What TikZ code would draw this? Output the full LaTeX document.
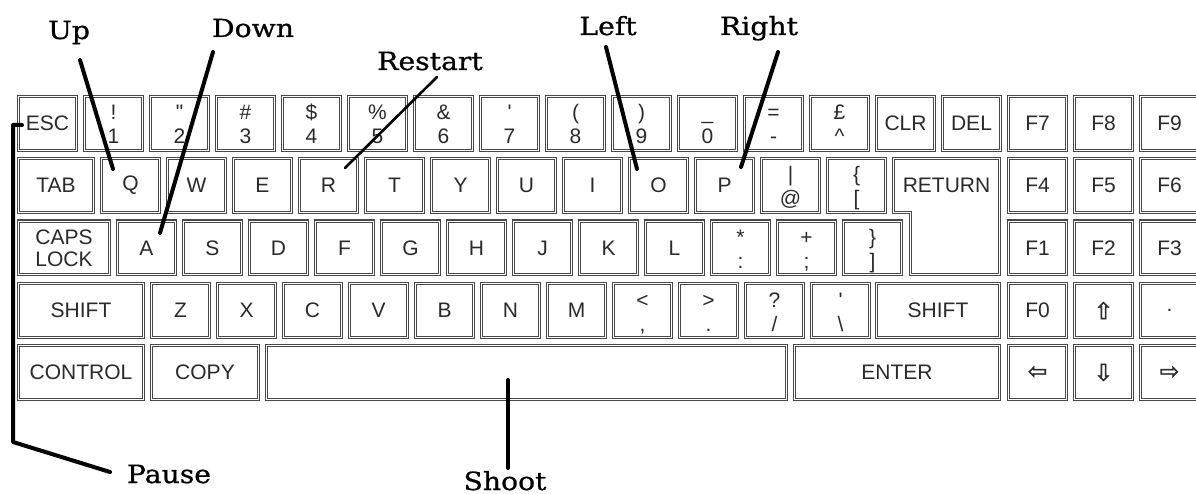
\documentclass[tikz,border=0pt]{standalone}
\usepackage{fontspec}
\setmainfont{Liberation Sans}
\newfontfamily\keyfont{Liberation Sans}
\newfontfamily\arrowfont{DejaVu Sans}[FakeBold=1.5]
\newfontfamily\labfont{DejaVu Serif}[FakeStretch=1.13,FakeBold=0.8]
\definecolor{keyline}{HTML}{484848}
\definecolor{keytext}{HTML}{2A2A2A}
% key box: optional style, name, x, y, w, h, text (x,y = outer top-left in px)
\newcommand\kb[7][]{\node[keybox,#1,minimum width=#5pt-3.4pt,minimum height=#6pt-3.4pt] (#2) at ({#3+#5/2},{#4+#6/2}) {#7};}
% two-symbol key: name, x, y, upper, lower
\newcommand\kt[5]{\kb{#1}{#2}{#3}{61}{57}{}%
  \node[keychar] (#1u) at ([yshift=3.5pt]#1.center) {#4};%
  \node[keychar] (#1l) at ([yshift=-20.5pt]#1.center) {#5};}
\begin{document}
\begin{tikzpicture}[x=1pt,y=-1pt,
  keybox/.style={draw=keyline, double=white, double distance=1.2pt, line width=1.1pt,
    inner sep=0pt, text=keytext, font=\keyfont\fontsize{21}{22}\selectfont, align=center},
  keyshape/.style={draw=keyline, double=white, double distance=1.2pt, line width=1.1pt},
  keylabel/.style={inner sep=0pt, text=keytext, font=\keyfont\fontsize{21}{22}\selectfont},
  keychar/.style={anchor=base, inner sep=0pt, text=keytext, font=\keyfont\fontsize{21}{22}\selectfont},
  arrowkey/.style={font=\arrowfont\fontsize{23}{25}\selectfont},
  lab/.style={anchor=base, inner sep=0pt, font=\labfont\fontsize{25}{28}\selectfont},
  conn/.style={line width=4pt, line cap=round, line join=round},
  connthin/.style={conn, line width=2.6pt}]
\useasboundingbox (0,0) rectangle (1196,494);
\fill[white] (0,0) rectangle (1196,494);
\clip (0,0) rectangle (1196,494);
% ---- row 1
\kb{esc}{17}{95}{61}{57}{ESC}
\kt{k1}{83}{95}{!}{1}
\kt{k2}{149}{95}{"}{2}
\kt{k3}{215}{95}{\#}{3}
\kt{k4}{281}{95}{\$}{4}
\kt{k5}{347}{95}{\%}{5}
\kt{k6}{413}{95}{\&}{6}
\kt{k7}{479}{95}{'}{7}
\kt{k8}{545}{95}{(}{8}
\kt{k9}{611}{95}{)}{9}
\kt{k0}{677}{95}{\_}{0}
\kt{kminus}{743}{95}{=}{-}
\kt{kpound}{809}{95}{£}{\textasciicircum}
\kb{clr}{875}{95}{61}{57}{CLR}
\kb{del}{941}{95}{61}{57}{DEL}
\kb{f7}{1007}{95}{61}{57}{F7}
\kb{f8}{1073}{95}{61}{57}{F8}
\kb{f9}{1139}{95}{61}{57}{F9}
% ---- row 2
\kb{tab}{17}{157}{78}{57}{TAB}
\kb{kq}{100}{157}{61}{57}{Q}
\kb{kw}{166}{157}{61}{57}{W}
\kb{ke}{232}{157}{61}{57}{E}
\kb{kr}{298}{157}{61}{57}{R}
\kb{kt}{364}{157}{61}{57}{T}
\kb{ky}{430}{157}{61}{57}{Y}
\kb{ku}{496}{157}{61}{57}{U}
\kb{ki}{562}{157}{61}{57}{I}
\kb{ko}{628}{157}{61}{57}{O}
\kb{kp}{694}{157}{61}{57}{P}
\kt{kat}{760}{157}{|}{@}
\kt{kbrace}{826}{157}{\{}{[}
\draw[keyshape] (893.7,158.7) -- (999.3,158.7) -- (999.3,274.8) -- (910.7,274.8)
  -- (910.7,212.3) -- (893.7,212.3) -- cycle;
\node[keylabel] (ret) at (946.5,185.5) {RETURN};
\kb{f4}{1007}{157}{61}{57}{F4}
\kb{f5}{1073}{157}{61}{57}{F5}
\kb{f6}{1139}{157}{61}{57}{F6}
% ---- row 3
\kb{caps}{17}{219.5}{94}{57}{CAPS\\LOCK}
\kb{ka}{116}{219.5}{61}{57}{A}
\kb{ks}{182}{219.5}{61}{57}{S}
\kb{kd}{248}{219.5}{61}{57}{D}
\kb{kf}{314}{219.5}{61}{57}{F}
\kb{kg}{380}{219.5}{61}{57}{G}
\kb{kh}{446}{219.5}{61}{57}{H}
\kb{kj}{512}{219.5}{61}{57}{J}
\kb{kk}{578}{219.5}{61}{57}{K}
\kb{kl}{644}{219.5}{61}{57}{L}
\kt{kstar}{710}{219.5}{*}{:}
\kt{kplus}{776}{219.5}{+}{;}
\kt{kcbrace}{842}{219.5}{\}}{]}
\kb{f1}{1007}{219.5}{61}{57}{F1}
\kb{f2}{1073}{219.5}{61}{57}{F2}
\kb{f3}{1139}{219.5}{61}{57}{F3}
% ---- row 4
\kb{lshift}{17}{282}{128}{57}{SHIFT}
\kb{kz}{150}{282}{61}{57}{Z}
\kb{kx}{216}{282}{61}{57}{X}
\kb{kc}{282}{282}{61}{57}{C}
\kb{kv}{348}{282}{61}{57}{V}
\kb{kb}{414}{282}{61}{57}{B}
\kb{kn}{480}{282}{61}{57}{N}
\kb{km}{546}{282}{61}{57}{M}
\kt{kless}{612}{282}{<}{,}
\kt{kgreater}{678}{282}{>}{.}
\kt{kquest}{744}{282}{?}{/}
\kt{kbslash}{810}{282}{'}{\textbackslash}
\kb{rshift}{875}{282}{126}{57}{SHIFT}
\kb{f0}{1007}{282}{61}{57}{F0}
\kb[arrowkey]{kup}{1073}{282}{61}{57}{⇧}
\kb{kdot}{1139}{282}{61}{57}{.}
% ---- row 5
\kb{ctrl}{17}{344}{128}{57}{CONTROL}
\kb{copy}{150}{344}{110}{57}{COPY}
\kb{space}{265}{344}{523}{57}{}
\kb{enter}{793}{344}{208}{57}{ENTER}
\kb[arrowkey]{kleft}{1007}{344}{61}{57}{⇦}
\kb[arrowkey]{kdown}{1073}{344}{61}{57}{⇩}
\kb[arrowkey]{kright}{1139}{344}{61}{57}{⇨}
% ---- labels
\node[lab] (lUp) at (69,39) {Up};
\node[lab] (lDown) at (253,37) {Down};
\node[lab] (lRestart) at (430,70) {Restart};
\node[lab] (lLeft) at (608,35) {Left};
\node[lab] (lRight) at (759,35) {Right};
\node[lab] (lPause) at (169,483) {Pause};
\node[lab] (lShoot) at (505,490) {Shoot};
% ---- connector end points
\coordinate (upA) at (80,60);      \coordinate (upB) at (113,169);
\coordinate (downA) at (213,52);   \coordinate (downB) at (160,233);
\coordinate (restA) at (437,77);   \coordinate (restB) at (345,168);
\coordinate (leftA) at (606,47);   \coordinate (leftB) at (637,169);
\coordinate (rightA) at (778,52);  \coordinate (rightB) at (741,167);
\coordinate (pauseA) at (22,125);  \coordinate (pauseB) at (13,125);
\coordinate (pauseC) at (13,442);  \coordinate (pauseD) at (110,472);
\coordinate (shootA) at (508,380); \coordinate (shootB) at (508,468);
% ---- connectors
\draw[conn] (upA) -- (upB);
\draw[conn] (downA) -- (downB);
\draw[connthin] (restA) -- (restB);
\draw[conn] (leftA) -- (leftB);
\draw[conn] (rightA) -- (rightB);
\draw[conn] (pauseA) -- (pauseB) -- (pauseC) -- (pauseD);
\draw[conn] (shootA) -- (shootB);
\end{tikzpicture}
\end{document}
